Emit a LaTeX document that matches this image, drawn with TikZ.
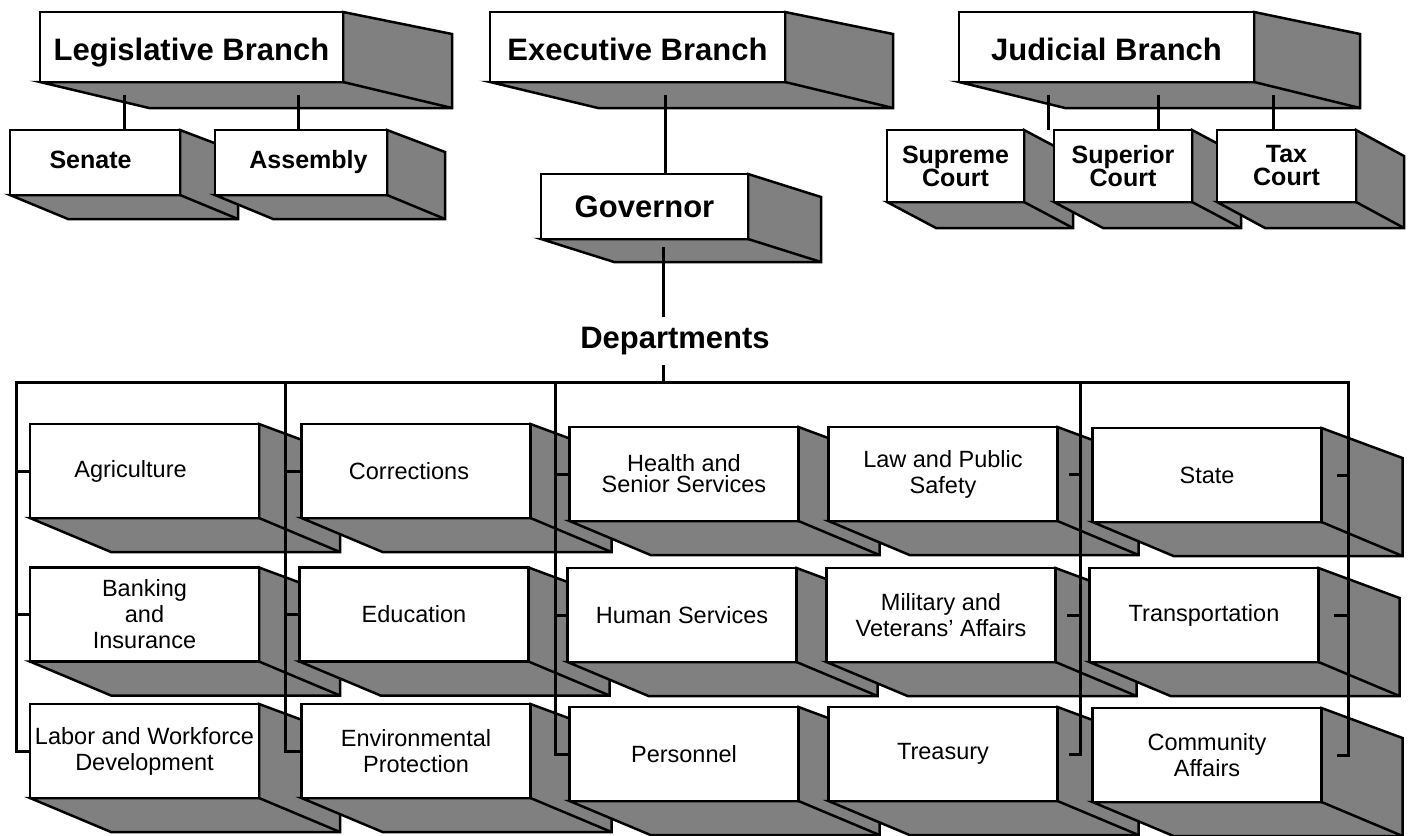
\documentclass[tikz,border=0pt]{standalone}
\usepackage{fontspec}
\setsansfont{Liberation Sans}
\usepackage{tikz}
\usetikzlibrary{positioning, calc, backgrounds}
\definecolor{boxgray}{HTML}{808080}

% shaded depth of a box: node, dx, dy at the bottom, dy at the top
\newcommand{\boxshade}[4]{%
  \begin{scope}[on background layer]
    \filldraw[fill=boxgray, line width=2.5pt] (#1.south west) -- ++(#2,#3) -- ($(#1.south east)+(#2,#3)$) -- ($(#1.north east)+(#2,#4)$) -- (#1.north east) -- (#1.south east) -- cycle;
    \draw[line width=2.5pt] (#1.south east) -- ++(#2,#3);
  \end{scope}}

\begin{document}
\begin{tikzpicture}[x=1pt, y=-1pt,
    front/.style={draw, fill=white, line width=2.5pt, inner sep=0pt, outer sep=0pt, align=center},
    branchbox/.style={front, minimum height=70pt, text height=26pt, text depth=0pt, font=\fontsize{31}{31}\selectfont\sffamily\bfseries},
    housebox/.style={front, minimum height=65pt, text height=19pt, text depth=7pt, font=\fontsize{25}{25}\selectfont\sffamily\bfseries},
    courtbox/.style={front, minimum height=72pt, font=\fontsize{25}{23}\selectfont\sffamily\bfseries},
    deptbox/.style={front, minimum width=229pt, minimum height=94pt, font=\fontsize{23.5}{26}\selectfont\sffamily},
    conn/.style={line width=3pt}]
  \useasboundingbox (0,0) rectangle (1410,835);

  % branches
  \node[branchbox, minimum width=303pt] (legis) at (191.5,47) {Legislative Branch};
  \node[branchbox, minimum width=295pt] (exec) at (637.5,47) {Executive Branch};
  \node[branchbox, minimum width=295pt] (judic) at (1106.5,47) {Judicial Branch};
  \boxshade{legis}{109}{26}{22}
  \boxshade{exec}{108}{26}{22}
  \boxshade{judic}{106}{26}{22}

  \node[housebox, minimum width=170pt] (senate) at (95,162.5) {Senate\kern9pt};
  \node[housebox, minimum width=172pt] (assembly) at (301,162.5) {\kern15pt Assembly};
  \boxshade{senate}{58}{24}{22}
  \boxshade{assembly}{58}{24}{22}

  \node[front, minimum width=207pt, minimum height=65pt, font=\fontsize{31}{31}\selectfont\sffamily\bfseries] (governor) at (644.5,206.5) {Governor};
  \boxshade{governor}{73}{23}{23}

  \node[courtbox, minimum width=137pt] (supreme) at (955.5,166) {Supreme\\Court};
  \node[courtbox, minimum width=138pt] (superior) at (1123,166) {Superior\\Court};
  \node[courtbox, minimum width=139pt] (taxct) at (1286.5,166) {Tax\\Court};
  \boxshade{supreme}{49}{26}{26}
  \boxshade{superior}{49}{26}{26}
  \boxshade{taxct}{48}{26}{26}

  \node[font=\fontsize{31}{31}\selectfont\sffamily\bfseries, inner ysep=10pt] (depts) at (675,341) {Departments};

  % departments
  \node[deptbox] (agri) at (144.5,471) {Agriculture\kern28pt};
  \node[deptbox] (corr) at (416,471) {Corrections\kern14pt};
  \node[deptbox, font=\fontsize{23.5}{21}\selectfont\sffamily] (health) at (684,474) {Health and\\Senior Services};
  \node[deptbox] (lawps) at (943,474) {Law and Public\\Safety};
  \node[deptbox] (state) at (1207,475) {State};
  \node[deptbox] (banking) at (144.5,614.5) {Banking\\and\\Insurance};
  \node[deptbox] (educ) at (414,614.5) {Education};
  \node[deptbox] (humserv) at (682,615) {Human Services};
  \node[deptbox] (military) at (941,615) {Military and\\Veterans’ Affairs};
  \node[deptbox] (transp) at (1204,615) {Transportation};
  \node[deptbox] (labor) at (144.5,751) {Labor and Workforce\\Development};
  \node[deptbox] (envprot) at (416,751) {Environmental\\Protection};
  \node[deptbox] (personnel) at (684,754) {Personnel};
  \node[deptbox] (treasury) at (943,754) {Treasury};
  \node[deptbox] (community) at (1207,755) {Community\\Affairs};
  \boxshade{agri}{81}{34}{30}
  \boxshade{corr}{81}{34}{30}
  \boxshade{health}{81}{34}{30}
  \boxshade{lawps}{81}{34}{30}
  \boxshade{state}{81}{34}{30}
  \boxshade{banking}{81}{34}{30}
  \boxshade{educ}{81}{34}{30}
  \boxshade{humserv}{81}{34}{30}
  \boxshade{military}{81}{34}{30}
  \boxshade{transp}{81}{34}{30}
  \boxshade{labor}{81}{34}{30}
  \boxshade{envprot}{81}{34}{30}
  \boxshade{personnel}{81}{34}{30}
  \boxshade{treasury}{81}{34}{30}
  \boxshade{community}{81}{34}{30}

  % connectors
  \coordinate (legA) at (124,95);
  \coordinate (legB) at (298,95);
  \coordinate (execA) at (665,95);
  \coordinate (judA) at (1048,95);
  \coordinate (judB) at (1158,95);
  \coordinate (judC) at (1273,95);
  \coordinate (govA) at (663,247);
  \draw[conn] (legA) -- (legA |- senate.north);
  \draw[conn] (legB) -- (legB |- assembly.north);
  \draw[conn] (execA) -- (execA |- governor.north);
  \draw[conn] (judA) -- (judA |- supreme.north);
  \draw[conn] (judB) -- (judB |- superior.north);
  \draw[conn] (judC) -- (judC |- taxct.north);
  \draw[conn] (govA) -- (govA |- depts.north);

  \coordinate (dropA) at (16,382);
  \coordinate (dropB) at (285,382);
  \coordinate (dropC) at (555,382);
  \coordinate (dropD) at (1080,382);
  \coordinate (dropE) at (1348,382);
  \draw[conn] (govA |- depts.south) -- (govA |- dropA);
  \draw[conn, shorten >=15pt] (labor.west) -- (dropA |- labor.west) -- (dropA) -- (dropE) -- (dropE |- community.east) -- (community.east);
  \draw[conn] (dropB) -- (dropB |- envprot.west) -- (envprot.west);
  \draw[conn] (dropC) -- (dropC |- personnel.west) -- (personnel.west);
  \draw[conn, shorten >=11pt] (dropD) -- (dropD |- treasury.east) -- (treasury.east);
  \draw[conn] (dropA |- agri.west) -- (agri.west);
  \draw[conn] (dropA |- banking.west) -- (banking.west);
  \draw[conn] (dropB |- corr.west) -- (corr.west);
  \draw[conn] (dropB |- educ.west) -- (educ.west);
  \draw[conn] (dropC |- health.west) -- (health.west);
  \draw[conn] (dropC |- humserv.west) -- (humserv.west);
  \draw[conn, shorten >=11pt] (dropD |- lawps.east) -- (lawps.east);
  \draw[conn, shorten >=11pt] (dropD |- military.east) -- (military.east);
  \draw[conn, shorten >=15pt] (dropE |- state.east) -- (state.east);
  \draw[conn, shorten >=15pt] (dropE |- transp.east) -- (transp.east);
\end{tikzpicture}
\end{document}
